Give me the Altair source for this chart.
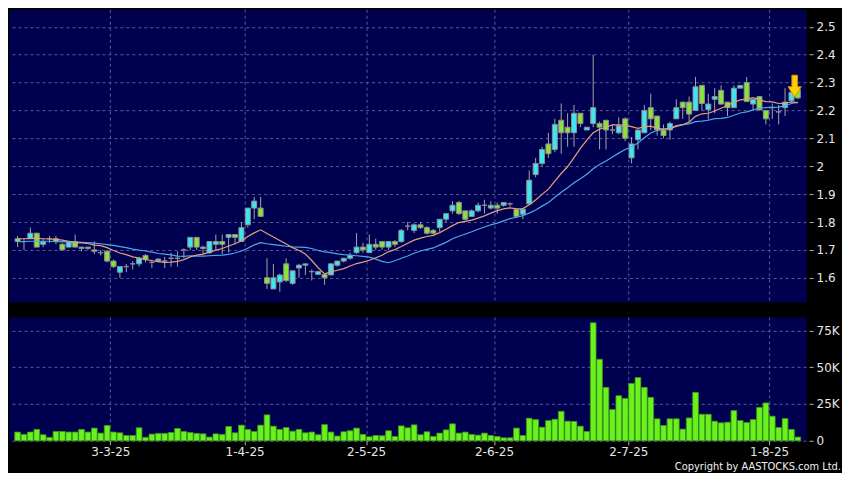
import altair as alt
import pandas as pd

# ---------------- data ----------------
opens = [1.74, 1.73, 1.74, 1.76, 1.72, 1.74, 1.74, 1.72, 1.71, 1.73,
         1.705, 1.705, 1.70, 1.69, 1.695, 1.66, 1.62, 1.64, 1.65, 1.65,
         1.68, 1.655, 1.66, 1.66, 1.67, 1.67, 1.70, 1.71, 1.745, 1.705,
         1.69, 1.72, 1.73, 1.745, 1.755, 1.73, 1.79, 1.85, 1.85, 1.60,
         1.56, 1.585, 1.65, 1.58, 1.635, 1.645, 1.622, 1.612, 1.612, 1.61,
         1.645, 1.66, 1.67, 1.69, 1.71, 1.69, 1.72, 1.73, 1.71, 1.73,
         1.73, 1.785, 1.77, 1.79, 1.78, 1.77, 1.78, 1.81, 1.84, 1.87,
         1.84, 1.82, 1.84, 1.86, 1.85, 1.86, 1.86, 1.865, 1.845, 1.828,
         1.865, 1.97, 2.01, 2.08, 2.06, 2.165, 2.14, 2.12, 2.19, 2.13,
         2.153, 2.153, 2.165, 2.13, 2.12, 2.17, 2.03, 2.095, 2.12, 2.21,
         2.18, 2.13, 2.13, 2.17, 2.23, 2.23, 2.20, 2.29, 2.203, 2.24,
         2.272, 2.23, 2.21, 2.28, 2.30, 2.223, 2.25, 2.20, 2.21, 2.195,
         2.21, 2.235, 2.275]

highs = [1.75, 1.74, 1.78, 1.76, 1.74, 1.75, 1.75, 1.725, 1.73, 1.755,
         1.71, 1.71, 1.73, 1.70, 1.70, 1.665, 1.64, 1.65, 1.66, 1.675,
         1.685, 1.665, 1.67, 1.675, 1.69, 1.695, 1.705, 1.745, 1.745, 1.715,
         1.73, 1.755, 1.755, 1.755, 1.755, 1.80, 1.85, 1.89, 1.89, 1.67,
         1.65, 1.615, 1.67, 1.625, 1.65, 1.65, 1.63, 1.625, 1.615, 1.65,
         1.66, 1.67, 1.69, 1.76, 1.725, 1.755, 1.74, 1.73, 1.73, 1.735,
         1.775, 1.80, 1.795, 1.80, 1.785, 1.775, 1.81, 1.83, 1.875, 1.875,
         1.84, 1.845, 1.87, 1.88, 1.875, 1.87, 1.87, 1.87, 1.85, 1.85,
         1.985, 2.03, 2.07, 2.12, 2.17, 2.225, 2.19, 2.22, 2.19, 2.14,
         2.40, 2.16, 2.165, 2.15, 2.175, 2.175, 2.105, 2.13, 2.22, 2.26,
         2.18, 2.15, 2.16, 2.24, 2.23, 2.25, 2.32, 2.29, 2.26, 2.28,
         2.29, 2.23, 2.29, 2.29, 2.32, 2.24, 2.25, 2.20, 2.225, 2.22,
         2.28, 2.28, 2.275]

lows = [1.71, 1.70, 1.74, 1.71, 1.71, 1.725, 1.72, 1.70, 1.71, 1.71,
        1.695, 1.70, 1.685, 1.68, 1.655, 1.635, 1.60, 1.62, 1.63, 1.64,
        1.655, 1.635, 1.655, 1.635, 1.64, 1.64, 1.67, 1.70, 1.70, 1.685,
        1.685, 1.70, 1.685, 1.69, 1.72, 1.73, 1.78, 1.81, 1.82, 1.56,
        1.56, 1.55, 1.585, 1.575, 1.60, 1.61, 1.59, 1.61, 1.575, 1.61,
        1.64, 1.655, 1.665, 1.685, 1.69, 1.69, 1.70, 1.70, 1.70, 1.71,
        1.725, 1.77, 1.76, 1.775, 1.755, 1.755, 1.765, 1.80, 1.83, 1.825,
        1.805, 1.82, 1.835, 1.83, 1.845, 1.83, 1.855, 1.855, 1.815, 1.81,
        1.86, 1.96, 2.00, 2.03, 2.05, 2.045, 2.07, 2.07, 2.14, 2.13,
        2.14, 2.06, 2.06, 2.115, 2.115, 2.09, 2.01, 2.06, 2.12, 2.13,
        2.11, 2.10, 2.095, 2.17, 2.17, 2.16, 2.20, 2.20, 2.167, 2.19,
        2.22, 2.18, 2.21, 2.28, 2.23, 2.20, 2.20, 2.15, 2.17, 2.15,
        2.18, 2.23, 2.24]

closes = [1.73, 1.73, 1.76, 1.71, 1.73, 1.74, 1.73, 1.70, 1.73, 1.71,
          1.71, 1.71, 1.695, 1.69, 1.66, 1.64, 1.64, 1.64, 1.65, 1.67,
          1.665, 1.655, 1.667, 1.66, 1.67, 1.67, 1.70, 1.745, 1.71, 1.71,
          1.73, 1.73, 1.72, 1.755, 1.745, 1.78, 1.85, 1.875, 1.82, 1.58,
          1.60, 1.61, 1.59, 1.625, 1.645, 1.65, 1.622, 1.622, 1.60, 1.65,
          1.66, 1.67, 1.68, 1.71, 1.70, 1.72, 1.71, 1.71, 1.73, 1.72,
          1.77, 1.785, 1.79, 1.78, 1.76, 1.76, 1.81, 1.83, 1.86, 1.83,
          1.81, 1.84, 1.86, 1.86, 1.86, 1.85, 1.87, 1.865, 1.82, 1.846,
          1.95, 2.01, 2.06, 2.045, 2.15, 2.12, 2.12, 2.19, 2.153, 2.14,
          2.21, 2.14, 2.13, 2.13, 2.145, 2.10, 2.08, 2.13, 2.20, 2.17,
          2.13, 2.11, 2.153, 2.21, 2.21, 2.187, 2.285, 2.225, 2.223, 2.25,
          2.223, 2.21, 2.28, 2.29, 2.232, 2.24, 2.202, 2.17, 2.21, 2.195,
          2.23, 2.265, 2.245]

volumes_k = [5.9, 4.3, 5.9, 7.7, 4.1, 2.3, 6.3, 6.3, 5.9, 5.9,
             7.7, 5.9, 8.6, 5.2, 10.4, 5.9, 5.4, 3.6, 3.6, 8.8,
             2.3, 4.5, 5.0, 5.0, 5.6, 8.3, 6.3, 5.6, 5.0, 4.7,
             2.5, 4.7, 4.3, 9.7, 5.4, 10.6, 7.7, 6.3, 10.6, 17.6,
             9.9, 7.7, 9.0, 6.5, 7.7, 5.4, 5.9, 4.1, 11.0, 5.9,
             3.2, 6.1, 6.8, 8.6, 4.3, 2.7, 3.6, 3.4, 6.8, 2.9,
             10.1, 8.8, 10.8, 4.1, 6.1, 2.9, 5.2, 7.4, 11.5, 5.2,
             5.9, 4.3, 3.8, 5.2, 3.6, 2.9, 2.0, 2.0, 8.6, 3.6,
             15.3, 14.4, 9.2, 13.7, 14.6, 20.0, 13.3, 13.1, 9.9, 6.3,
             80.2, 55.4, 36.3, 21.2, 30.6, 28.8, 39.0, 43.0, 36.3, 29.5,
             14.9, 10.4, 14.9, 14.9, 7.9, 15.5, 32.9, 18.0, 18.0, 13.3,
             12.2, 12.6, 20.5, 13.7, 12.4, 14.4, 22.7, 25.7, 16.7, 9.0,
             15.1, 7.7, 2.5]

ma10 = [1.740, 1.740, 1.741, 1.741, 1.740, 1.739, 1.738, 1.735, 1.731, 1.727,
        1.725, 1.723, 1.717, 1.715, 1.708, 1.698, 1.689, 1.683, 1.675, 1.671,
        1.666, 1.661, 1.658, 1.655, 1.656, 1.659, 1.665, 1.675, 1.681, 1.685,
        1.692, 1.699, 1.705, 1.714, 1.722, 1.733, 1.748, 1.761, 1.772, 1.759,
        1.746, 1.734, 1.721, 1.708, 1.698, 1.685, 1.662, 1.636, 1.614, 1.621,
        1.627, 1.633, 1.642, 1.651, 1.656, 1.663, 1.672, 1.681, 1.694, 1.701,
        1.712, 1.724, 1.735, 1.742, 1.748, 1.752, 1.762, 1.774, 1.787, 1.798,
        1.802, 1.807, 1.814, 1.822, 1.832, 1.841, 1.847, 1.851, 1.847, 1.848,
        1.862, 1.879, 1.899, 1.918, 1.947, 1.974, 1.999, 2.031, 2.064, 2.094,
        2.120, 2.133, 2.140, 2.148, 2.148, 2.146, 2.142, 2.136, 2.141, 2.144,
        2.136, 2.133, 2.135, 2.143, 2.149, 2.158, 2.179, 2.188, 2.190, 2.198,
        2.208, 2.218, 2.230, 2.238, 2.241, 2.246, 2.238, 2.232, 2.231, 2.225,
        2.226, 2.231, 2.228]

ma20 = [1.730, 1.730, 1.731, 1.731, 1.731, 1.731, 1.730, 1.730, 1.729, 1.728,
        1.727, 1.726, 1.724, 1.722, 1.719, 1.716, 1.712, 1.708, 1.703, 1.699,
        1.696, 1.692, 1.687, 1.685, 1.682, 1.678, 1.677, 1.679, 1.678, 1.678,
        1.679, 1.680, 1.681, 1.684, 1.689, 1.696, 1.706, 1.718, 1.726, 1.722,
        1.719, 1.716, 1.713, 1.711, 1.710, 1.709, 1.705, 1.698, 1.693, 1.690,
        1.686, 1.683, 1.681, 1.679, 1.677, 1.674, 1.667, 1.659, 1.654, 1.661,
        1.670, 1.678, 1.688, 1.696, 1.702, 1.707, 1.717, 1.727, 1.740, 1.749,
        1.757, 1.765, 1.774, 1.782, 1.790, 1.796, 1.804, 1.812, 1.817, 1.823,
        1.832, 1.843, 1.857, 1.870, 1.889, 1.907, 1.923, 1.941, 1.955, 1.971,
        1.991, 2.006, 2.019, 2.033, 2.047, 2.060, 2.070, 2.083, 2.102, 2.119,
        2.128, 2.133, 2.137, 2.146, 2.149, 2.152, 2.160, 2.162, 2.165, 2.171,
        2.172, 2.175, 2.183, 2.191, 2.195, 2.202, 2.208, 2.210, 2.211, 2.212,
        2.217, 2.225, 2.229]

# trading-day index of each labelled date, and the label text
tick_bar = [14, 35, 54, 74, 95, 117]
tick_text = ["3-3-25", "1-4-25", "2-5-25", "2-6-25", "2-7-25", "1-8-25"]
price_ticks = [1.6, 1.7, 1.8, 1.9, 2.0, 2.1, 2.2, 2.3, 2.4, 2.5]
volume_ticks = [0, 25000, 50000, 75000]
copyright_text = "Copyright by AASTOCKS.com Ltd."
marker_bar = [121.5]
marker_price = [2.287]

# ---------------- build table ----------------
n = len(closes)
df = pd.DataFrame({
    "i": list(range(n)),
    "open": opens, "high": highs, "low": lows, "close": closes,
    "volume": [v * 1000 for v in volumes_k],
    "ma10": ma10, "ma20": ma20,
})
marker_df = pd.DataFrame({"i": marker_bar, "p": marker_price})

# ---------------- styling ----------------
W, H1, H2 = 798, 293, 124
UP = "#3ee6f2"
DOWN = "#8ae23a"
EDGE = "#8e8e8e"
WICK = "#a4a4a4"
ORANGE = "#e3a07c"
BLUE = "#4aa8ea"
VOL_FILL = "#6af21e"
VOL_EDGE = "#3f9c14"
NAVY = "#000050"
GRID = "#5a5a92"
LABEL = "#e6e6e6"
ARROW_PATH = "M-0.25,-1L0.25,-1L0.25,0.05L0.6,0.05L0,1L-0.6,0.05L-0.25,0.05Z"

tick_vals = [t + 0.5 for t in tick_bar]
label_expr = ""
for v, t in zip(tick_vals, tick_text):
    label_expr += f"datum.value == {v} ? '{t}' : "
label_expr += "''"

xscale = alt.Scale(domain=[-0.56, 122.5], nice=False, zero=False)
yscale = alt.Scale(domain=[1.5134, 2.5629], nice=False, zero=False)
vscale = alt.Scale(domain=[0, 84200], nice=False)

x_grid_axis = alt.Axis(values=tick_vals, labels=False, ticks=False, domain=False,
                       grid=True, title="")
price_axis = alt.Axis(orient="right", values=price_ticks, format="~g", grid=True,
                      domain=False, ticks=True, tickSize=4, offset=3, labelPadding=3,
                      title="")
vol_axis = alt.Axis(orient="right", values=volume_ticks,
                    labelExpr="datum.value == 0 ? '0' : format(datum.value / 1000, 'd') + 'K'",
                    grid=True, domain=False, ticks=True, tickSize=4, offset=3,
                    labelPadding=3, title="")
x_vol_axis = alt.Axis(values=tick_vals, labelExpr=label_expr, grid=True, domain=False,
                      ticks=True, tickSize=4, labelPadding=2, labelFlush=False,
                      labelOverlap=False, labelAngle=0, title="")

X = alt.X("i:Q", scale=xscale, axis=x_grid_axis)
base = alt.Chart(df)

wicks = base.mark_rule(color=WICK, strokeWidth=1).encode(
    x=X, y=alt.Y("low:Q", scale=yscale, axis=price_axis), y2="high:Q")
bodies = base.mark_bar(width=5, orient="vertical", stroke=EDGE, strokeWidth=1).encode(
    x=X, y=alt.Y("open:Q", scale=yscale, axis=price_axis), y2="close:Q",
    fill=alt.condition("datum.close >= datum.open", alt.value(UP), alt.value(DOWN)))
line20 = base.mark_line(color=BLUE, strokeWidth=1.2).encode(
    x=X, y=alt.Y("ma20:Q", scale=yscale, axis=price_axis))
line10 = base.mark_line(color=ORANGE, strokeWidth=1.2).encode(
    x=X, y=alt.Y("ma10:Q", scale=yscale, axis=price_axis))
marker = alt.Chart(marker_df).mark_point(
    shape=ARROW_PATH, size=484, filled=True, fill="#ffd000", stroke="#e09000",
    strokeWidth=1, opacity=1).encode(
    x=X, y=alt.Y("p:Q", scale=yscale, axis=price_axis))

price = alt.layer(wicks, bodies, line20, line10, marker).properties(width=W, height=H1)

vol_bars = base.mark_bar(width=5.7, orient="vertical", fill=VOL_FILL, stroke=VOL_EDGE,
                         strokeWidth=0.8).encode(
    x=alt.X("i:Q", scale=xscale, axis=x_vol_axis),
    y=alt.Y("volume:Q", scale=vscale, axis=vol_axis))
copyright_mark = alt.Chart(pd.DataFrame({"t": [copyright_text]})).mark_text(
    align="right", baseline="bottom", font="DejaVu Sans Condensed", fontSize=11,
    color="#f0f0f0").encode(
    x=alt.value(W + 35), y=alt.value(H2 + 31), text="t:N")

volume = alt.layer(vol_bars, copyright_mark).properties(width=W, height=H2)

chart = alt.vconcat(price, volume, spacing=13).properties(
    padding=0, background="#000000"
).configure_view(
    fill=NAVY, stroke="transparent"
).configure_axis(
    labelFont="DejaVu Sans", labelFontSize=12, labelColor=LABEL,
    gridColor=GRID, gridDash=[3, 3], gridWidth=1, tickColor="#b0b0b0",
    tickWidth=1
)

chart.save("out.html", embed_options={"renderer": "svg", "actions": False})
